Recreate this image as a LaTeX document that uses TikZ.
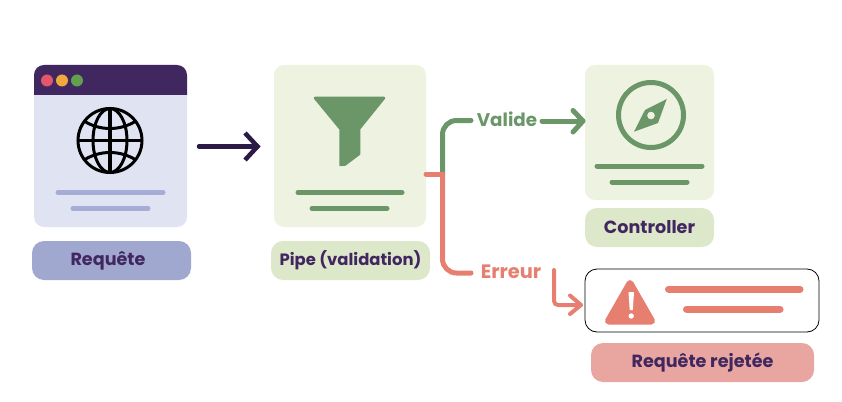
\documentclass[tikz,border=0pt]{standalone}
\usepackage{fontspec}
\setmainfont{Poppins}
\definecolor{ink}{HTML}{41275F}
\definecolor{arrowink}{HTML}{2A1A45}
\definecolor{lav}{HTML}{E0E3F2}
\definecolor{lavlabel}{HTML}{A1A8D0}
\definecolor{lavline}{HTML}{A5ACD6}
\definecolor{palegreen}{HTML}{EEF2E0}
\definecolor{greenlabel}{HTML}{DDE7C9}
\definecolor{green}{HTML}{6A9668}
\definecolor{red}{HTML}{E67F70}
\definecolor{redlabel}{HTML}{E9A6A0}
\definecolor{dotred}{HTML}{E4566C}
\definecolor{dotorange}{HTML}{EFA93C}
\definecolor{dotgreen}{HTML}{62A04E}
\tikzset{
  x=1pt,y=-1pt,
  boxbase/.style={rectangle,inner sep=0pt,outer sep=0pt,rounded corners=#1},
  card/.style={boxbase=10pt,minimum width=#1},
  label/.style={boxbase=12pt,minimum height=39pt,text=ink,font=\fontsize{17.6}{20}\selectfont\bfseries},
  bar/.style={line width=5pt,line cap=round},
  conn/.style={line width=5pt,line cap=round,line join=round},
  tagtext/.style={inner sep=0pt,font=\fontsize{18.3}{21}\selectfont\bfseries},
}
\begin{document}
\begin{tikzpicture}
\useasboundingbox (0,0) rectangle (842,401);

% Browser card
\node[card=153pt,minimum height=162pt,fill=lav] (browser) at (110.5,146) {};
\fill[ink] (34,95) [rounded corners=10pt] -- (34,65) -- (187,65) [sharp corners] -- (187,95) -- cycle;
\fill[dotred] (47,80.5) circle[radius=6];
\fill[dotorange] (62,80.5) circle[radius=6];
\fill[dotgreen] (77,80.5) circle[radius=6];
\begin{scope}[black,line width=3pt]
  \draw (110,140.5) circle[radius=32];
  \draw (110,140.5) ellipse[x radius=17,y radius=32];
  \draw (78,140.5) -- (142,140.5);
  \draw[line width=4pt] (110,108.5) -- (110,172.5);
  \draw (84,121) .. controls (100,131) and (120,131) .. (136,121);
  \draw (84,160) .. controls (100,150) and (120,150) .. (136,160);
\end{scope}
\draw[bar,lavline] (58,192.5) -- (163,192.5);
\draw[bar,lavline] (73,208.5) -- (148,208.5);
\node[label,minimum width=159pt,fill=lavlabel] (reqlabel) at (111.5,260.5) {\hspace*{-7pt}Requête};

% Pipe card
\node[card=152pt,minimum height=162pt,fill=palegreen] (pipe) at (350,146) {};
\fill[green,line join=round,draw=green,line width=2.5pt] (315,98) -- (384,98) -- (359,129) -- (359,154) -- (345,164.5) -- (340.5,165) -- (340.5,129) -- cycle;
\draw[bar,green] (298,192.5) -- (402,192.5);
\draw[bar,green] (312,208.5) -- (387,208.5);
\node[label,minimum width=159pt,fill=greenlabel,font=\fontsize{16.4}{20}\selectfont\bfseries] (pipelabel) at (350.5,260.5) {Pipe (validation)};

% Controller card
\node[card=129pt,minimum height=135pt,fill=palegreen] (ctrl) at (649.5,132.5) {};
\draw[green,line width=5pt] (651,115) circle[radius=32.5];
\fill[green] (666.7,99) -- (658,123) -- (634,131.7) -- (645,110) -- cycle;
\fill[palegreen] (651,115.5) circle[radius=3.8];
\draw[bar,green] (597,166) -- (702,166);
\draw[bar,green] (612,182) -- (687,182);
\node[label,minimum width=129pt,fill=greenlabel] (ctrllabel) at (649.5,227.5) {Controller};

% Reject box
\node[boxbase=12pt,minimum width=234pt,minimum height=63pt,draw=black,line width=0.8pt] (reject) at (702,300.5) {};
\fill[red,draw=red,line width=7pt,line join=round] (630,283.5) -- (651.5,321) -- (608.5,321) -- cycle;
\fill[white] (628.5,292) -- (634,292) -- (632.8,310) -- (629.7,310) -- cycle;
\fill[white] (631.2,316) circle[radius=2.7];
\draw[line width=7pt,line cap=round,red] (668.5,289) -- (800,289);
\draw[line width=7pt,line cap=round,red] (686.5,309) -- (780,309);
\node[label,minimum width=223pt,fill=redlabel] (rejlabel) at (702.5,362.5) {Requête rejetée};

% Connectors
\coordinate (a1) at (199,146.5);
\coordinate (a2) at (257.5,146.5);
\draw[line width=4.5pt,arrowink,line cap=round] (a1) -- (a2);
\draw[line width=4.5pt,arrowink,line join=miter] (245,133) -- (a2) -- (245,160);

\node[tagtext,text=green] (valide) at (507,119.5) {Valide};
\node[tagtext,text=red,font=\fontsize{19.4}{21}\selectfont\bfseries] (erreur) at (511,271.5) {Erreur};
\coordinate (split) at (442.5,174);
\draw[conn,green,rounded corners=14pt] (split) -- (442.5,120.5) -- (471,120.5);
\draw[conn,red,rounded corners=14pt] (split) -- (442.5,273) -- (471,273);
\draw[conn,red] (pipe.east |- split) -- (split);
\draw[conn,green] (542,121) -- (581,121);
\draw[conn,green] (573,110.5) -- (583,121) -- (573,132);
\draw[line width=4pt,line cap=round,red,rounded corners=4pt] (554,270) -- (554,305) -- (579,305);
\draw[line width=4pt,line cap=round,line join=round,red] (570,295.5) -- (581,305) -- (570,314);
\end{tikzpicture}
\end{document}
